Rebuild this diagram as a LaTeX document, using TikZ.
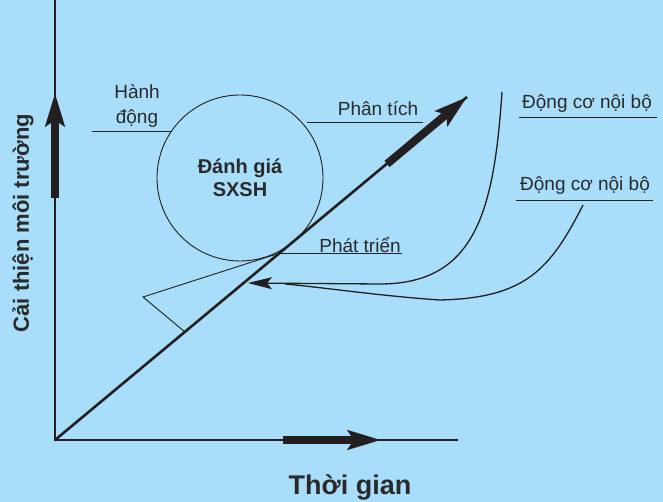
\documentclass[tikz,border=0pt]{standalone}
\usepackage{fontspec}
\setmainfont{Liberation Sans}
\usetikzlibrary{arrows.meta, positioning}
\definecolor{cbg}{HTML}{A8DEFA}
\definecolor{cink}{HTML}{231F20}
\definecolor{ctext}{HTML}{2A2A2A}
\tikzset{
  every picture/.style={x=1pt, y=-1pt},
  axis/.style={draw=cink, line width=2pt},
  diag/.style={draw=cink, line width=2.6pt},
  bigarrow/.style={draw=cink, line width=8pt, -{Stealth[length=33pt, width=19pt, inset=6pt]}},
  leader/.style={draw=cink, line width=0.9pt},
  flow/.style={draw=cink, line width=1.3pt},
  lbl/.style={font=\fontsize{19}{25}\selectfont, text=ctext, inner sep=0pt, align=center},
  bold/.style={font=\bfseries\fontsize{#1}{23}\selectfont, text=ctext, inner sep=0pt, align=center},
}

\begin{document}
\begin{tikzpicture}
  \useasboundingbox[fill=cbg] (0,0) rectangle (663,502);
  % axes and diagonal
  \coordinate (O) at (55,440); \coordinate (ytop) at (55,0); \coordinate (xend) at (458,440);
  \coordinate (D) at (467,97);
  \draw[axis] (ytop) -- (O) -- (xend);
  \draw[diag] (O) -- (D);
  \draw[bigarrow] (55,198) -- (55,93);
  \draw[bigarrow] (283,440) -- (381,440);
  \draw[bigarrow] (387,164) -- (D);
  \node[bold=22, rotate=90] (ylab) at (23,223) {Cải thiện môi trường};
  \node[bold=27] (xlab) at (350,487) {Thời gian};
  % circle
  \node[draw=cink, line width=0.9pt, circle, minimum size=166pt, bold=20] (sx) at (240,178) {Đánh giá\\SXSH};
  % labels
  \node[lbl] (hd) at (137,106) {Hành\\động};
  \draw[leader] (92,131) coordinate (hdL) -- (172,131) coordinate (hdR);
  \node[lbl] (pt) at (378,109) {Phân tích};
  \draw[leader] (307,122) coordinate (ptL) -- (423,122) coordinate (ptR);
  \node[lbl] (ptr) at (360,245) {Phát triển};
  \draw[leader] (280,253) coordinate (ptrL) -- (402,253) coordinate (ptrR);
  \node[lbl] (dc1) at (587,104) {Động cơ nội bộ};
  \draw[leader] (519,117) coordinate (dc1L) -- (657,117);
  \node[lbl] (dc2) at (585,186) {Động cơ nội bộ};
  \draw[leader] (516,200) coordinate (dc2L) -- (653,200);
  % triangle
  \coordinate (apex) at (143,297); \coordinate (foot) at (185,332);
  \draw[leader] (ptrL) -- (apex) -- (foot);
  % flows
  \coordinate (tip) at (248,283); \coordinate (s1) at (502,92); \coordinate (s2) at (583,205);
  \draw[flow, -{Stealth[length=24pt, width=12pt, inset=5pt]}] (s1) .. controls (494,210) and (476,284) .. (380,284) -- (tip);
  \draw[flow] (s2) .. controls (550,270) and (525,298) .. (440,300) .. controls (380,296) and (320,287) .. (285,284);
\end{tikzpicture}
\end{document}
